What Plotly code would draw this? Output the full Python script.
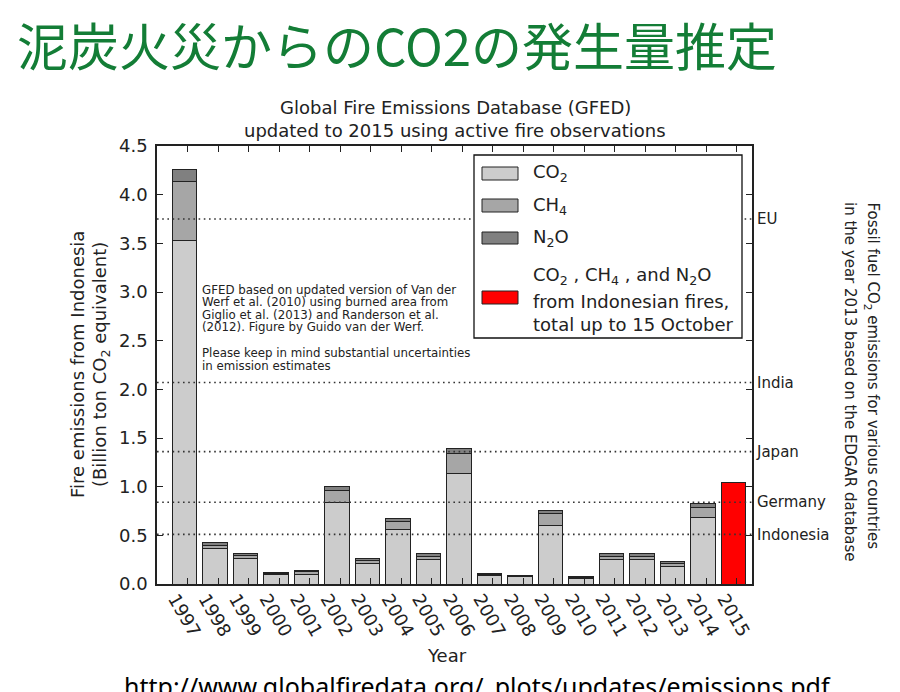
import plotly.graph_objects as go

# ---------------- data ----------------
years = list(range(1997, 2016))
co2 = [3.53, 0.365, 0.26, 0.095, 0.10, 0.84, 0.21, 0.565, 0.25, 1.14,
       0.09, 0.072, 0.60, 0.06, 0.25, 0.25, 0.18, 0.68, None]
ch4 = [0.61, 0.035, 0.035, 0.012, 0.025, 0.12, 0.03, 0.075, 0.035, 0.20,
       0.01, 0.01, 0.12, 0.008, 0.034, 0.034, 0.035, 0.11, None]
n2o = [0.12, 0.03, 0.02, 0.015, 0.015, 0.045, 0.02, 0.035, 0.025, 0.05,
       0.013, 0.01, 0.04, 0.01, 0.025, 0.025, 0.018, 0.04, None]
total_2015_year = [2015]
total_2015 = [1.04]

country_names = ["EU", "India", "Japan", "Germany", "Indonesia"]
country_values = [3.75, 2.07, 1.36, 0.84, 0.51]

y_ticks = [0.0, 0.5, 1.0, 1.5, 2.0, 2.5, 3.0, 3.5, 4.0, 4.5]

# ---------------- styling helpers ----------------
# target plot area in page pixels
L, R, T, B = 157, 752, 146, 584
W, H = 900, 692
OFF = 8  # page body margin offset
def px_x(px):
    return (px - L) / (R - L)
def px_y(py):
    return (B - py) / (B - T)

FONT = "DejaVu Sans"
TXT = "#222222"
C_CO2, C_CH4, C_N2O, C_RED = "#cccccc", "#a6a6a6", "#808080", "#ff0000"
EDGE = dict(color="#222222", width=1)

fig = go.Figure()
for name, vals, col in [("CO2", co2, C_CO2), ("CH4", ch4, C_CH4), ("N2O", n2o, C_N2O)]:
    fig.add_trace(go.Bar(x=years, y=vals, name=name, offset=0, width=0.8,
                         marker=dict(color=col, line=EDGE), showlegend=False))
fig.add_trace(go.Bar(x=total_2015_year, y=total_2015, name="total", offset=0, width=0.8,
                     marker=dict(color=C_RED, line=EDGE), showlegend=False))
# invisible traces so the extra axes are drawn
fig.add_trace(go.Scatter(x=[2000], y=[0], yaxis="y2", mode="markers",
                         marker=dict(opacity=0), showlegend=False, hoverinfo="skip"))
fig.add_trace(go.Scatter(x=[2000], y=[0], xaxis="x2", mode="markers",
                         marker=dict(opacity=0), showlegend=False, hoverinfo="skip"))

shapes = []
for v in country_values:
    shapes.append(dict(type="line", xref="paper", yref="y", x0=0, x1=1, y0=v, y1=v,
                       line=dict(color="#333333", width=1.6, dash="1.6px,3.6px"), layer="above"))

# custom legend
shapes.append(dict(type="rect", xref="paper", yref="paper",
                   x0=px_x(474), x1=px_x(742), y0=px_y(338), y1=px_y(155),
                   fillcolor="white", line=dict(color="#111111", width=1.3), layer="above"))
patch_rows = [(167, 180, C_CO2), (199, 212, C_CH4), (232, 244, C_N2O), (291, 304, C_RED)]
for top, bot, col in patch_rows:
    shapes.append(dict(type="rect", xref="paper", yref="paper",
                       x0=px_x(482), x1=px_x(518), y0=px_y(bot), y1=px_y(top),
                       fillcolor=col, line=dict(color="#222222", width=1), layer="above"))

ann = []
def add_text(text, x, y, size, xanchor="center", yanchor="middle", angle=0, color=TXT,
             family=FONT, pad=1):
    ann.append(dict(text=text, x=px_x(x), y=px_y(y), xref="paper", yref="paper",
                    xanchor=xanchor, yanchor=yanchor, textangle=angle, showarrow=False,
                    borderpad=pad, font=dict(family=family, size=size, color=color)))

legend_texts = [("CO<sub>2</sub>", 173), ("CH<sub>4</sub>", 206), ("N<sub>2</sub>O", 238),
                ("CO<sub>2</sub> , CH<sub>4</sub> , and N<sub>2</sub>O", 276),
                ("from Indonesian fires,", 301), ("total up to 15 October", 324)]
for t, yy in legend_texts:
    add_text(t, 531, yy, 18, xanchor="left")

# top titles
add_text("泥炭火災からのCO2の発生量推定", 15, 44, 51, xanchor="left",
         color="#137d36", family="Noto Sans CJK JP")
add_text("Global Fire Emissions Database (GFED)", 455, 108, 18)
add_text("updated to 2015 using active fire observations", 455, 130, 18)

# note block
note_lines = [("GFED based on updated version of Van der", 290),
              ("Werf et al. (2010) using burned area from", 302.3),
              ("Giglio et al. (2013) and Randerson et al.", 314.7),
              ("(2012). Figure by Guido van der Werf.", 327),
              ("Please keep in mind substantial uncertainties", 353.3),
              ("in emission estimates", 366)]
for t, yy in note_lines:
    add_text(t, 201, yy, 11.8, xanchor="left", pad=0)

# y label
add_text("Fire emissions from Indonesia", 77, 365, 18, angle=-90)
add_text("(Billion ton CO<sub>2</sub> equivalent)", 101, 365, 18, angle=-90)
# x label
add_text("Year", 447, 655, 18)
# right side vertical text
add_text("Fossil fuel CO<sub>2</sub> emissions for various countries", 872, 200, 15,
         yanchor="top", angle=90)
add_text("in the year 2013 based on the EDGAR database", 850, 200, 15,
         yanchor="top", angle=90)
# source url
add_text("http://www.globalfiredata.org/_plots/updates/emissions.pdf", 477, 667, 25,
         yanchor="top", color="#000000", family="Noto Sans")

axis_common = dict(showline=True, linecolor="#222222", linewidth=1.5, mirror="ticks",
                   ticks="inside", ticklen=6, tickwidth=1, tickcolor="#222222",
                   showgrid=False, zeroline=False,
                   tickfont=dict(family=FONT, size=18, color=TXT))

fig.update_layout(
    width=W, height=H,
    margin=dict(l=L - OFF, r=W - (R - OFF), t=T - OFF, b=H - (B - OFF), pad=0),
    paper_bgcolor="white", plot_bgcolor="white",
    barmode="stack",
    xaxis=dict(range=[1996.5, 2016], tickvals=[y + 0.5 for y in years],
               showticklabels=False, **axis_common),
    xaxis2=dict(overlaying="x", side="bottom", range=[1996.5, 2016],
                tickvals=[y + 0.1 for y in years], ticktext=[str(y) for y in years],
                tickangle=60, ticks="", showline=False, showgrid=False, zeroline=False,
                tickfont=dict(family=FONT, size=18, color=TXT)),
    yaxis=dict(range=[0, 4.5], tickvals=y_ticks, tickformat=".1f",
               ticklabelstandoff=4, **axis_common),
    yaxis2=dict(overlaying="y", side="right", range=[0, 4.5], tickvals=country_values,
                ticktext=country_names, ticks="", showline=False, showgrid=False,
                zeroline=False, ticklabelstandoff=4,
                tickfont=dict(family=FONT, size=15, color=TXT)),
    shapes=shapes, annotations=ann,
)

fig.write_html("out.html")
